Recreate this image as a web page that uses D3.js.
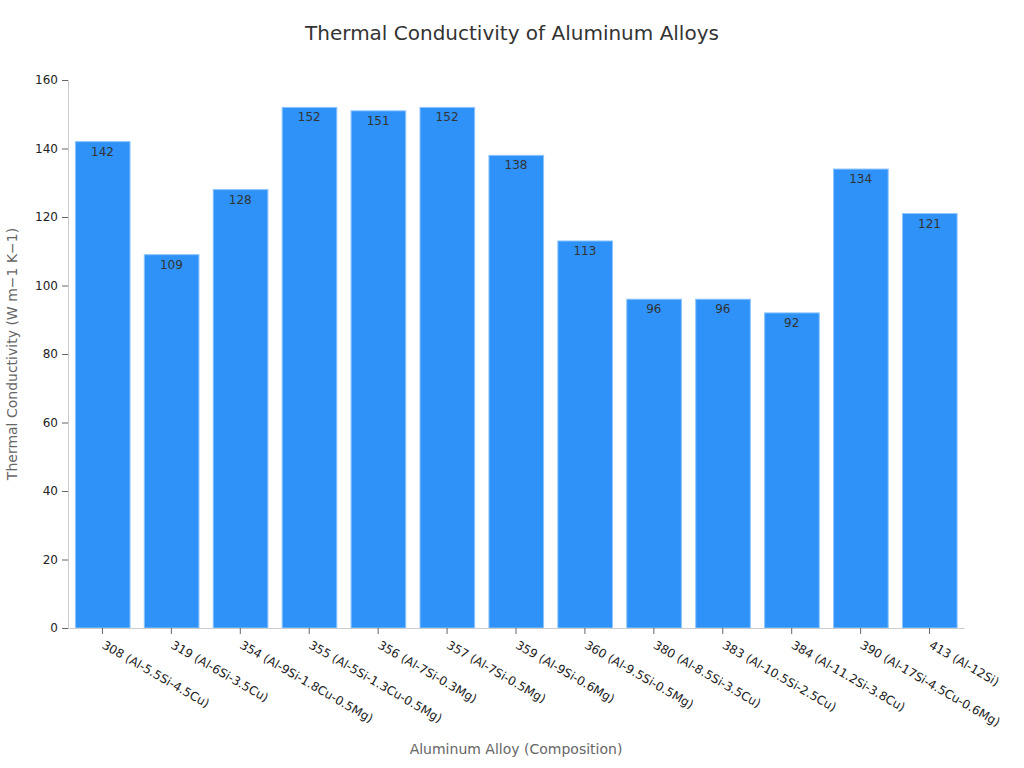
<!DOCTYPE html>
<html><head><meta charset="utf-8">
<script src="https://cdn.jsdelivr.net/npm/d3@7/dist/d3.min.js"></script>
<style>body{margin:0;background:#fff;font-family:"DejaVu Sans",sans-serif;}</style>
</head><body><svg id="c" width="1024" height="768"></svg>
<script>
const categories = ["308 (Al-5.5Si-4.5Cu)","319 (Al-6Si-3.5Cu)","354 (Al-9Si-1.8Cu-0.5Mg)","355 (Al-5Si-1.3Cu-0.5Mg)","356 (Al-7Si-0.3Mg)","357 (Al-7Si-0.5Mg)","359 (Al-9Si-0.6Mg)","360 (Al-9.5Si-0.5Mg)","380 (Al-8.5Si-3.5Cu)","383 (Al-10.5Si-2.5Cu)","384 (Al-11.2Si-3.8Cu)","390 (Al-17Si-4.5Cu-0.6Mg)","413 (Al-12Si)"];
const values = [142,109,128,152,151,152,138,113,96,96,92,134,121];
const yTicks = [0,20,40,60,80,100,120,140,160];

const svg = d3.select("#c");
const m = {l:68};
const x = d3.scaleBand().domain(categories).range([m.l, 964]).paddingInner(0.2).paddingOuter(0.1);
const y = d3.scaleLinear().domain([0,160]).range([628, 80]);

svg.append("text").attr("x",512).attr("y",40).attr("text-anchor","middle")
  .attr("font-size",20).attr("fill","#333").text("Thermal Conductivity of Aluminum Alloys");

svg.selectAll("rect.bar").data(values).join("rect").attr("class","bar")
  .attr("x",(d,i)=>x(categories[i])+0.5).attr("y",d=>y(d))
  .attr("width",x.bandwidth()-0.5).attr("height",d=>y(0)-y(d))
  .attr("fill","#2e92f8").attr("stroke","#8cc4ff").attr("stroke-width",1);

svg.selectAll("text.val").data(values).join("text").attr("class","val")
  .attr("x",(d,i)=>x(categories[i])+x.bandwidth()/2).attr("y",d=>y(d)+14)
  .attr("text-anchor","middle").attr("font-size",12).attr("fill","#333").text(d=>d);

const ya = svg.append("g").attr("transform",`translate(${m.l},0)`)
  .call(d3.axisLeft(y).tickValues(yTicks).tickSize(6).tickPadding(4));
ya.select(".domain").attr("stroke","#ccc");
ya.selectAll(".tick line").attr("stroke","#666");
ya.selectAll(".tick text").attr("font-size",12).attr("fill","#222").attr("font-family","DejaVu Sans");

const xa = svg.append("g").attr("transform",`translate(0,628)`)
  .call(d3.axisBottom(x).tickSize(6).tickSizeOuter(0));
xa.select(".domain").attr("stroke","#ccc");
xa.selectAll(".tick line").attr("stroke","#666");
xa.selectAll(".tick text").attr("font-size",12).attr("fill","#222").attr("font-family","DejaVu Sans")
  .attr("text-anchor","start").attr("x",0).attr("y",0).attr("dy","0.71em")
  .attr("transform","translate(3,12) rotate(30)");

svg.append("text").attr("x",516).attr("y",754).attr("text-anchor","middle")
  .attr("font-size",14).attr("fill","#666").text("Aluminum Alloy (Composition)");
svg.append("text").attr("transform","translate(17,354) rotate(-90)").attr("text-anchor","middle")
  .attr("font-size",14).attr("fill","#666").text("Thermal Conductivity (W m\u22121 K\u22121)");
</script></body></html>
